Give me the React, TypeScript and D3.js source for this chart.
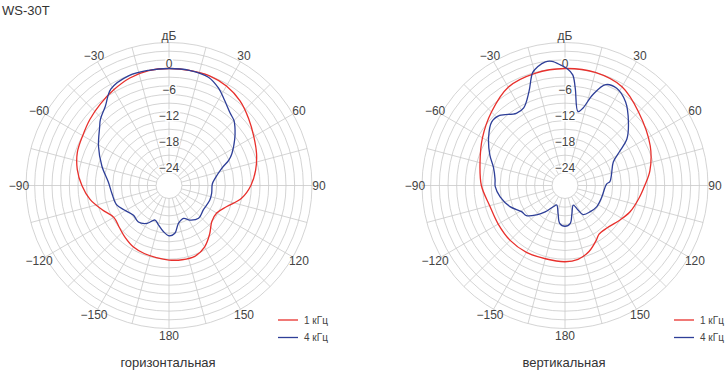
import React from 'react';
import * as d3 from 'd3';

// horizontal plane, 1 kHz
const hAngles1 = [-180, -170, -160, -150, -140, -130, -120, -110, -100, -90, -80, -70, -60, -50, -40, -30, -20, -10, 0, 10, 20, 30, 40, 50, 60, 70, 80, 90, 100, 110, 120, 130, 140, 150, 160, 170];
const hDb1 = [-9.8, -10.1, -10.3, -10.6, -11.3, -12.0, -12.3, -10.6, -8.5, -6.9, -5.5, -4.5, -4.0, -3.2, -2.4, -1.5, -0.6, -0.1, 0, 0, 0, -0.5, -1.5, -3.0, -4.4, -5.5, -6.7, -8.1, -10.0, -12.8, -14.3, -14.1, -12.4, -10.6, -9.6, -9.6];

// horizontal plane, 4 kHz
const hAngles4 = [-180, -173, -165, -158, -150, -140, -130, -120, -110, -98, -87, -74, -61, -50, -46, -39, -31, -20, -10, 0, 10, 20, 27, 33, 40, 45, 50, 55, 63, 67, 72, 81, 88, 100, 110, 125, 138, 149, 156, 166, 173];
const hDb4 = [-15.4, -16.3, -17.6, -18.4, -16.9, -16.0, -16.3, -15.4, -14.1, -13.7, -13.0, -10.9, -8.4, -6.1, -5.0, -3.6, -1.0, 0, 0, 0, 0, -0.4, -1.8, -3.5, -5.1, -5.8, -7.1, -8.5, -10.7, -12.0, -14.2, -16.2, -17.0, -17.0, -17.0, -17.3, -16.8, -17.7, -18.7, -18.0, -15.9];

// vertical plane, 1 kHz
const vAngles1 = [-180, -165, -150, -135, -120, -105, -90, -75, -60, -45, -30, -15, 0, 15, 30, 45, 65, 80, 90, 100, 112, 122, 135, 145, 150, 160, 170];
const vDb1 = [-9.4, -9.5, -9.2, -9.1, -9.2, -9.0, -7.7, -6.7, -5.0, -3.0, -0.8, -0.2, 0, 0, -0.7, -3.0, -5.3, -7.1, -8.6, -9.7, -10.8, -12.0, -13.2, -13.3, -12.5, -10.8, -9.7];

// vertical plane, 4 kHz
const vAngles4 = [-180, -172, -166, -157, -151, -143, -136, -128, -121, -111, -100, -91, -85, -76, -68, -58, -49, -43, -34, -28, -21, -16, -13, -9, -6, -2, 1, 4, 6, 10, 13, 17, 22, 28, 36, 45, 53, 58, 64, 77, 85, 88, 107, 124, 136, 148, 152, 157, 166, 172];
const vDb4 = [-17.6, -18.2, -20.4, -22.1, -21.4, -19.4, -17.6, -15.7, -15.3, -13.4, -11.8, -10.9, -10.8, -10.0, -8.3, -6.2, -4.6, -4.9, -6.9, -6.7, -3.8, 0.1, 1.1, 1.9, 1.8, 0.8, 0, -1.4, -4.4, -9.7, -8.7, -5.1, -1.9, -1.6, -3.2, -6.3, -9.1, -12.1, -14.6, -16.0, -16.6, -17.4, -18.1, -18.2, -18.6, -19.1, -20.6, -22.1, -20.4, -18.2];

const ringValues = d3.range(-24, 7, 2);
const ringLabels = [0, -6, -12, -18, -24];
const spokeAngles = d3.range(0, 360, 15);
const labelAngles = [-150, -120, -90, -60, -30, 0, 30, 60, 90, 120, 150, 180];
const labelTexts = ['−150', '−120', '−90', '−60', '−30', 'дБ', '30', '60', '90', '120', '150', '180'];
const legendNames = ['1 кГц', '4 кГц'];

const RED = '#e8302c';
const BLUE = '#2e3f98';
const GRID = '#c9c9c9';
const FONT = '"Liberation Sans", Arial, sans-serif';

const CY = 185.5;

const rScale = d3.scaleLinear().domain([-24, 6]).range([13, 143]);
const toRad = (deg: number) => (deg * Math.PI) / 180;
const minusFmt = (v: number) => (v < 0 ? '−' + Math.abs(v) : String(v));

const radialLine = d3
  .lineRadial<[number, number]>()
  .angle((d) => toRad(d[0]))
  .radius((d) => rScale(d[1]))
  .curve(d3.curveCatmullRomClosed.alpha(0.5));

type PlotProps = {
  cx: number;
  angles1: number[];
  db1: number[];
  angles4: number[];
  db4: number[];
  title: string;
};

const PolarPlot = ({ cx, angles1, db1, angles4, db4, title }: PlotProps) => {
  const pts1 = angles1.map((a, i) => [a, db1[i]] as [number, number]);
  const pts4 = angles4.map((a, i) => [a, db4[i]] as [number, number]);
  const r0 = rScale(-24);
  const rOuter = rScale(6);

  return (
    <g>
      <g transform={`translate(${cx},${CY})`}>
        {ringValues.map((v) => (
          <circle key={v} r={rScale(v)} fill="none" stroke={GRID} strokeWidth={0.8} />
        ))}
        {spokeAngles.map((a) => (
          <line
            key={a}
            x1={r0 * Math.sin(toRad(a))}
            y1={-r0 * Math.cos(toRad(a))}
            x2={rOuter * Math.sin(toRad(a))}
            y2={-rOuter * Math.cos(toRad(a))}
            stroke={GRID}
            strokeWidth={0.8}
          />
        ))}
        {ringLabels.map((v) => (
          <text
            key={v}
            x={0}
            y={-rScale(v) - 5}
            textAnchor="middle"
            dominantBaseline="central"
            fontSize={12}
            fill="#444"
            stroke="#fff"
            strokeWidth={3}
            paintOrder="stroke"
            fontFamily={FONT}
          >
            {minusFmt(v)}
          </text>
        ))}
        <path d={radialLine(pts1) || ''} fill="none" stroke={RED} strokeWidth={1.3} />
        <path d={radialLine(pts4) || ''} fill="none" stroke={BLUE} strokeWidth={1.3} />
        {labelAngles.map((a, i) => (
          <text
            key={a}
            x={150 * Math.sin(toRad(a))}
            y={-150 * Math.cos(toRad(a))}
            textAnchor="middle"
            dominantBaseline="central"
            fontSize={12}
            fill="#444"
            fontFamily={FONT}
          >
            {labelTexts[i]}
          </text>
        ))}
      </g>
      {legendNames.map((name, i) => (
        <g key={name} transform={`translate(${cx + 109},${320 + i * 17.5})`}>
          <line x1={0} x2={20} y1={0} y2={0} stroke={i === 0 ? RED : BLUE} strokeWidth={1.3} />
          <text x={26} y={0} dominantBaseline="central" fontSize={10} fill="#444" fontFamily={FONT}>
            {name}
          </text>
        </g>
      ))}
      <text x={cx - 1} y={362} textAnchor="middle" dominantBaseline="central" fontSize={13} fill="#333" fontFamily={FONT}>
        {title}
      </text>
    </g>
  );
};

export default function App() {
  return (
    <svg width={725} height={371} style={{ position: 'absolute', left: 0, top: 0, background: '#fff' }}>
      <text x={2} y={10} dominantBaseline="central" fontSize={13} fill="#333" fontFamily={FONT}>
        WS-30T
      </text>
      <PolarPlot cx={169} angles1={hAngles1} db1={hDb1} angles4={hAngles4} db4={hDb4} title="горизонтальная" />
      <PolarPlot cx={565} angles1={vAngles1} db1={vDb1} angles4={vAngles4} db4={vDb4} title="вертикальная" />
    </svg>
  );
}
